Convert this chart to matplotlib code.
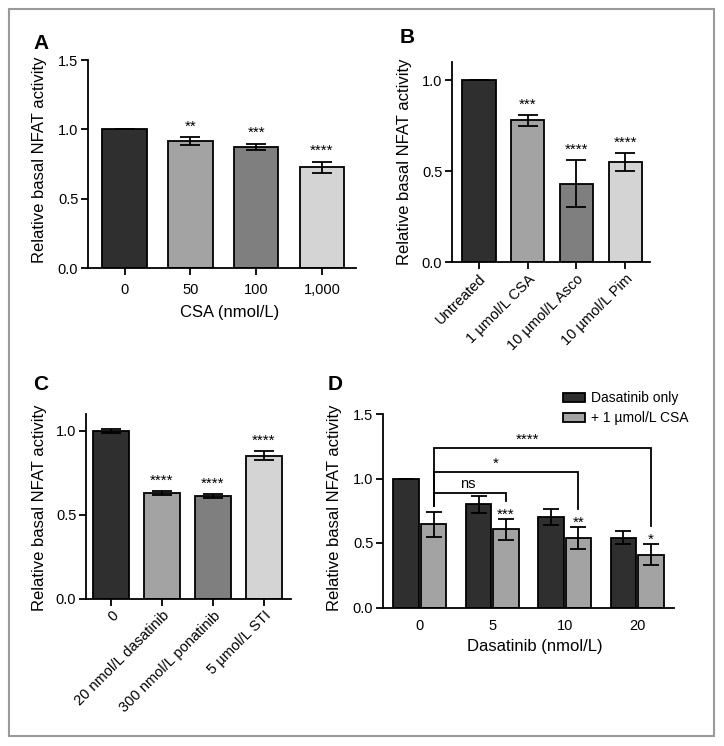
import matplotlib
matplotlib.use('Agg')
import matplotlib.pyplot as plt
from matplotlib.patches import Patch, Rectangle
import numpy as np

plt.rcParams['font.family'] = ['Liberation Sans', 'DejaVu Sans']

W, H = 724, 746

##########################################################################
# panel A - CSA dose
csa_doses = ['0', '50', '100', '1,000']
csa_mean = [1.0, 0.915, 0.875, 0.725]
csa_err = [0.0, 0.027, 0.022, 0.042]
csa_sig = ['', '**', '***', '****']

# panel B - calcineurin inhibitors
inhib_labels = ['Untreated', '1 \u00b5mol/L CSA', '10 \u00b5mol/L Asco', '10 \u00b5mol/L Pim']
inhib_mean = [1.0, 0.78, 0.43, 0.55]
inhib_err = [0.0, 0.03, 0.13, 0.05]
inhib_sig = ['', '***', '****', '****']

# panel C - TKIs
tki_labels = ['0', '20 nmol/L dasatinib', '300 nmol/L ponatinib', '5 \u00b5mol/L STI']
tki_mean = [1.0, 0.63, 0.61, 0.853]
tki_err = [0.013, 0.012, 0.012, 0.027]
tki_sig = ['', '****', '****', '****']

# panel D - dasatinib +/- CSA
dasa_doses = ['0', '5', '10', '20']
dasa_only = [1.0, 0.80, 0.70, 0.54]
dasa_only_err = [0.0, 0.066, 0.06, 0.05]
dasa_csa = [0.645, 0.605, 0.54, 0.41]
dasa_csa_err = [0.095, 0.078, 0.085, 0.082]
dasa_csa_sig = ['', '***', '**', '*']
# brackets from the 0 nmol/L + CSA bar
bracket_to = [1, 2, 3]
bracket_level = [0.89, 1.05, 1.236]
bracket_text = ['ns', '*', '****']
bracket_text_x = [0.66, 1.05, 1.48]

##########################################################################
grays = ['#2f2f2f', '#a3a3a3', '#7f7f7f', '#d4d4d4']
lw = 1.3
tick_fs = 10.5
label_fs = 12
star_fs = 11

fig = plt.figure(figsize=(W / 100, H / 100), dpi=100)


def px_axes(left, top, right, bottom):
    return fig.add_axes([left / W, 1 - bottom / H, (right - left) / W, (bottom - top) / H])


def style(ax):
    for s in ['top', 'right']:
        ax.spines[s].set_visible(False)
    for s in ['left', 'bottom']:
        ax.spines[s].set_linewidth(lw)
    ax.tick_params(width=lw, length=5, labelsize=tick_fs, pad=2)
    ax.yaxis.set_major_formatter(matplotlib.ticker.FormatStrFormatter('%.1f'))


def simple_bars(ax, labels, mean, err, sig, width, capsize=7):
    x = np.arange(len(mean))
    ax.bar(x, mean, width=width, color=grays, edgecolor='black', linewidth=lw,
           yerr=err, capsize=capsize,
           error_kw=dict(elinewidth=lw, capthick=lw, ecolor='black'))
    for i, s in enumerate(sig):
        if s:
            ax.annotate(s, (x[i], mean[i] + err[i]), xytext=(0, 7.5),
                        textcoords='offset points', ha='center', va='center',
                        fontsize=star_fs)
    ax.set_xticks(x)
    return x


def panel_text(x, y, s):
    fig.text(x / W, 1 - y / H, s, fontsize=15, fontweight='bold', ha='left', va='baseline')


def ylab(x, y, s='Relative basal NFAT activity'):
    fig.text(x / W, 1 - y / H, s, fontsize=label_fs, rotation=90, ha='center', va='center')


##########################################################################
# A
axA = px_axes(88, 60, 356, 268)
style(axA)
x = simple_bars(axA, csa_doses, csa_mean, csa_err, csa_sig, 0.68)
axA.set_xticklabels(csa_doses)
axA.tick_params(axis='x', pad=6)
axA.set_xlim(-0.56, 3.52)
axA.set_ylim(0, 1.5)
axA.set_yticks([0, 0.5, 1.0, 1.5])
fig.text(230 / W, 1 - 313 / H, 'CSA (nmol/L)', fontsize=label_fs, ha='center', va='center')
ylab(40, 160)
panel_text(33, 49, 'A')

# B
axB = px_axes(452, 62, 650, 262)
style(axB)
x = simple_bars(axB, inhib_labels, inhib_mean, inhib_err, inhib_sig, 0.68)
axB.set_xticklabels(inhib_labels, rotation=45, ha='right', rotation_mode='anchor')
axB.set_xlim(-0.555, 3.51)
axB.set_ylim(0, 1.1)
axB.set_yticks([0, 0.5, 1.0])
ylab(405, 162)
panel_text(400, 43, 'B')

# C
axC = px_axes(86, 414, 291, 599)
style(axC)
x = simple_bars(axC, tki_labels, tki_mean, tki_err, tki_sig, 0.69)
axC.set_xticklabels(tki_labels, rotation=45, ha='right', rotation_mode='anchor')
axC.set_xlim(-0.49, 3.53)
axC.set_ylim(0, 1.1)
axC.set_yticks([0, 0.5, 1.0])
ylab(40, 508)
panel_text(33, 390, 'C')

# D
axD = px_axes(383, 414, 674, 607.5)
style(axD)
xd = np.arange(len(dasa_doses))
off = 0.19
bw = 0.35
ekw = dict(elinewidth=lw, capthick=lw, ecolor='black')
axD.bar(xd - off, dasa_only, bw, color=grays[0], edgecolor='black', linewidth=lw,
        yerr=dasa_only_err, capsize=6, error_kw=ekw)
axD.bar(xd + off, dasa_csa, bw, color=grays[1], edgecolor='black', linewidth=lw,
        yerr=dasa_csa_err, capsize=6, error_kw=ekw)
for i, s in enumerate(dasa_csa_sig):
    if s:
        axD.annotate(s, (xd[i] + off, dasa_csa[i] + dasa_csa_err[i]), xytext=(0, 3),
                     textcoords='offset points', ha='center', va='center', fontsize=star_fs)

lx = xd[0] + off
lb = dasa_csa[0] + dasa_csa_err[0] + 0.05
for j, lvl, s, tx in zip(bracket_to, bracket_level, bracket_text, bracket_text_x):
    rx = xd[j] + off
    rb = dasa_csa[j] + dasa_csa_err[j] + 0.14
    axD.plot([lx, lx, rx, rx], [lb, lvl, lvl, rb], color='black', lw=lw, solid_joinstyle='miter')
    fs = 10.5 if s == 'ns' else star_fs
    axD.annotate(s, (tx, lvl), xytext=(0, 1), textcoords='offset points',
                 ha='center', va='bottom', fontsize=fs)

axD.set_xticks(xd)
axD.set_xticklabels(dasa_doses)
axD.tick_params(axis='x', length=0, pad=8)
axD.set_xlim(-0.51, 3.51)
axD.set_ylim(0, 1.5)
axD.set_yticks([0, 0.5, 1.0, 1.5])
fig.text(535 / W, 1 - 646 / H, 'Dasatinib (nmol/L)', fontsize=label_fs, ha='center', va='center')
ylab(334, 508)
panel_text(328, 390, 'D')

handles = [Patch(facecolor=grays[0], edgecolor='black', linewidth=lw, label='Dasatinib only'),
           Patch(facecolor=grays[1], edgecolor='black', linewidth=lw, label='+ 1 \u00b5mol/L CSA')]
axD.legend(handles=handles, loc='upper left', bbox_to_anchor=(563 / W, 1 - 391 / H),
           bbox_transform=fig.transFigure, frameon=False, fontsize=10,
           handlelength=1.6, handleheight=0.6, handletextpad=0.4, labelspacing=0.45,
           borderaxespad=0, borderpad=0)

# outer frame
fig.add_artist(Rectangle((9 / W, 1 - 736 / H), 705 / W, 727 / H, transform=fig.transFigure,
                         fill=False, edgecolor='#9a9a9a', linewidth=1.5))

fig.savefig('out.png', dpi=100)
